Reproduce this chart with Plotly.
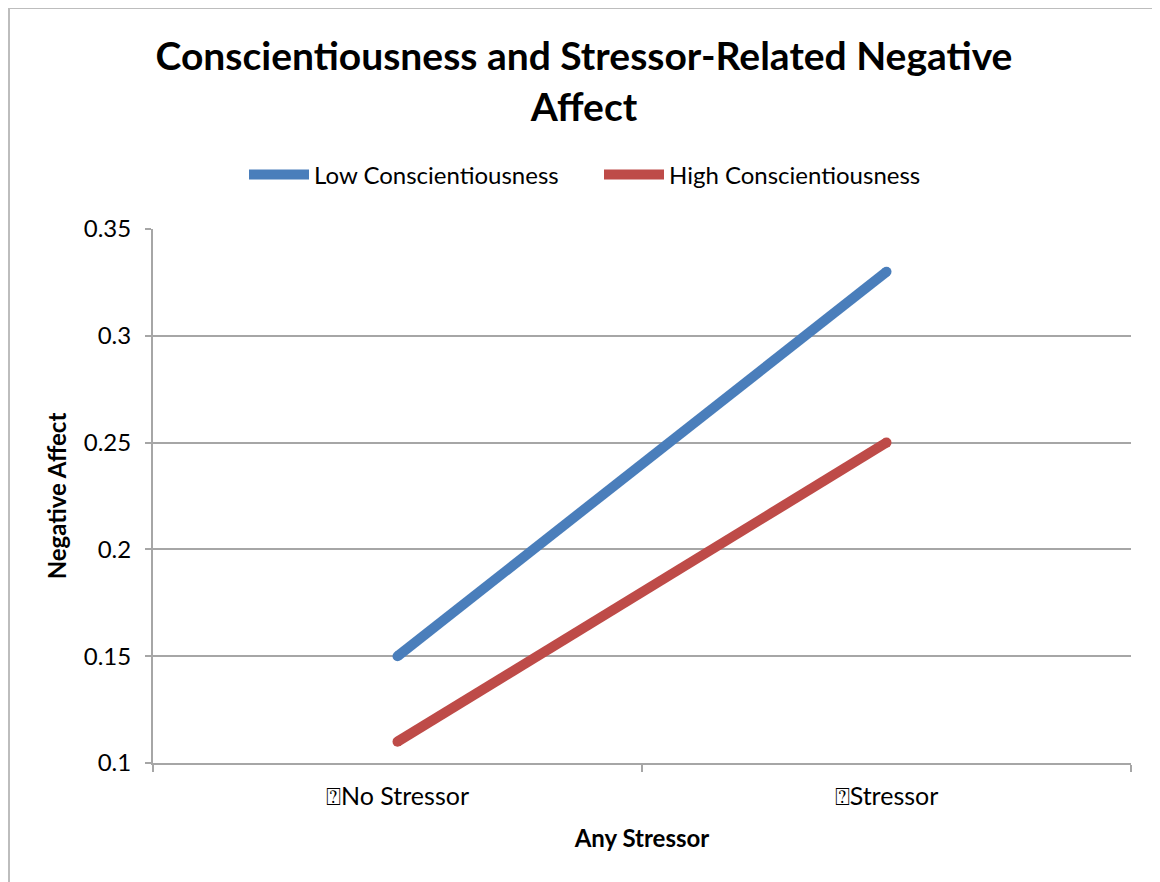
import plotly.graph_objects as go

categories = ["\u2370No Stressor", "\u2370Stressor"]
low_consc = [0.15, 0.33]
high_consc = [0.11, 0.25]
series_names = ["Low Conscientiousness", "High Conscientiousness"]
colors = ["#4A7EBB", "#BE4B48"]

# page body has an 8px margin; figure coordinates are page coordinates - 8
W, H = 1152, 874
L, R, T, B = 145, 29, 221, 119
FONT = "Lato, 'Open Sans', sans-serif"

fig = go.Figure()
for name, vals, c in zip(series_names, [low_consc, high_consc], colors):
    fig.add_trace(go.Scatter(x=categories, y=vals, mode="lines", name=name,
                             line=dict(color=c, width=10)))
for name, vals, c in zip(series_names, [low_consc, high_consc], colors):
    fig.add_trace(go.Scatter(x=categories, y=vals, mode="markers", showlegend=False,
                             hoverinfo="skip",
                             marker=dict(color=c, size=10, line=dict(width=0))))

pw = W - L - R
ph = H - T - B
def px(x):
    return (x - L) / pw
def py(y):
    return (H - B - y) / ph

fig.add_shape(type="rect", xref="paper", yref="paper",
              x0=px(1), x1=px(1150), y0=py(900), y1=py(0),
              line=dict(color="#BDBDBD", width=2), fillcolor="rgba(0,0,0,0)", layer="below")

fig.update_layout(
    width=W, height=H,
    margin=dict(l=L, r=R, t=T, b=B),
    paper_bgcolor="white", plot_bgcolor="white",
    font=dict(family=FONT, color="black", size=24),
    title=dict(text="<b>Conscientiousness and Stressor-Related Negative<br>Affect</b>",
               x=px(576), xref="paper", xanchor="center", y=1 - 62/H, yanchor="middle",
               font=dict(size=39, family=FONT)),
    showlegend=True,
    legend=dict(orientation="h", x=px(236), xref="paper", xanchor="left",
                y=py(167), yanchor="middle", font=dict(size=24), itemwidth=60,
                entrywidth=280),
    xaxis=dict(type="category", tickson="boundaries", showgrid=False,
               showline=True, linecolor="#A6A6A6", linewidth=2,
               ticks="outside", ticklen=7, tickcolor="#A6A6A6", tickwidth=2,
               tickfont=dict(size=25), ticklabelstandoff=10,
               title=dict(text="<b>Any Stressor</b>", font=dict(size=24), standoff=21),
               range=[-0.5, 1.5]),
    yaxis=dict(range=[0.1, 0.35], dtick=0.05, tick0=0.1, showgrid=True,
               gridcolor="#A6A6A6", gridwidth=1.5,
               showline=True, linecolor="#A6A6A6", linewidth=2,
               ticks="outside", ticklen=6, tickcolor="#A6A6A6", tickwidth=2,
               tickfont=dict(size=24), zeroline=False, ticklabelstandoff=9,
               title=dict(text="<b>Negative Affect</b>", font=dict(size=24), standoff=10)),
)

fig.write_html("out.html")
